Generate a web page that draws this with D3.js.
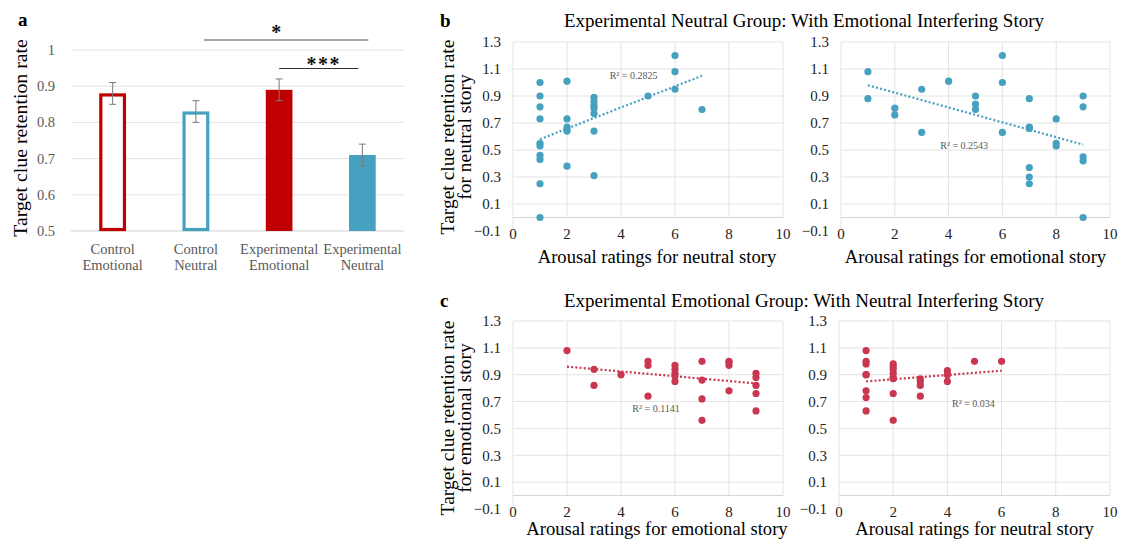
<!DOCTYPE html>
<html>
<head>
<meta charset="utf-8">
<script src="https://cdn.jsdelivr.net/npm/d3@7"></script>
<style>
  html, body { margin: 0; padding: 0; background: #fff; }
  svg { display: block; font-family: "Liberation Serif", "Times New Roman", serif; }
</style>
</head>
<body>
<svg id="chart" width="1121" height="540"></svg>
<script>
// ---------------- DATA ----------------
// Panel a
const barCategories = [["Control", "Emotional"], ["Control", "Neutral"], ["Experimental", "Emotional"], ["Experimental", "Neutral"]];
const barValues = [0.88, 0.83, 0.89, 0.71];
const barErrors = [0.03, 0.03, 0.03, 0.03];
const barFilled = [false, false, true, true];
const barColorKey = ["red", "blue", "red", "blue"];
const barTicks = [0.5, 0.6, 0.7, 0.8, 0.9, 1];
const sigLabels = ["*", "***"];

// Panel b (Experimental Neutral Group)
const bNeutralX = [1,1,1,1,1,1,1,1,1,1, 2,2,2,2,2,2, 3,3,3,3,3,3,3, 5, 6,6,6, 7];
const bNeutralY = [1.0,0.9,0.82,0.73,0.55,0.53,0.46,0.43,0.25,0.0, 1.01,0.73,0.67,0.65,0.64,0.38, 0.89,0.86,0.83,0.81,0.77,0.64,0.31, 0.9, 1.2,1.08,0.95, 0.8];
const bNeutralTrend = [[1, 0.58], [7, 1.05]];
const bNeutralR2 = "R² = 0.2825";

const bEmotionalX = [1,1, 2,2, 3,3, 4, 5,5,5, 6,6,6, 7,7,7,7,7,7, 8,8,8, 9,9,9,9,9];
const bEmotionalY = [1.08,0.88, 0.81,0.76, 0.95,0.63, 1.01, 0.9,0.84,0.8, 1.2,1.0,0.63, 0.88,0.67,0.66,0.37,0.3,0.25, 0.73,0.55,0.53, 0.9,0.82,0.45,0.42,0.0];
const bEmotionalTrend = [[1, 0.98], [9, 0.54]];
const bEmotionalR2 = "R² = 0.2543";

// Panel c (Experimental Emotional Group)
const cEmotionalX = [2, 3,3, 4, 5,5,5, 6,6,6,6,6, 7,7,7,7, 8,8,8,8, 9,9,9,9,9];
const cEmotionalY = [1.08, 0.94,0.82, 0.9, 1.0,0.97,0.74, 0.97,0.94,0.91,0.89,0.85, 1.0,0.86,0.72,0.56, 1.0,0.99,0.97,0.78, 0.91,0.88,0.82,0.76,0.63];
const cEmotionalTrend = [[2, 0.96], [9, 0.835]];
const cEmotionalR2 = "R² = 0.1141";

const cNeutralX = [1,1,1,1,1,1,1,1, 2,2,2,2,2,2,2,2, 3,3,3,3, 4,4,4, 5, 6];
const cNeutralY = [1.08,1.0,0.98,0.9,0.9,0.78,0.73,0.63, 0.98,0.96,0.94,0.91,0.88,0.87,0.76,0.56, 0.87,0.85,0.82,0.74, 0.93,0.9,0.85, 1.0, 1.0];
const cNeutralTrend = [[1, 0.85], [6, 0.93]];
const cNeutralR2 = "R² = 0.034";

const scatterXTicks = [0, 2, 4, 6, 8, 10];
const scatterYTicks = [-0.1, 0.1, 0.3, 0.5, 0.7, 0.9, 1.1, 1.3];
const scatterYGrid = [0.1, 0.3, 0.5, 0.7, 0.9, 1.1, 1.3];

const titleB = "Experimental Neutral Group: With Emotional Interfering Story";
const titleC = "Experimental Emotional Group: With Neutral Interfering Story";

// ---------------- STYLE ----------------
const COLORS = { red: "#C00000", blue: "#46A0C0", dotBlue: "#46A0C0", dotRed: "#C8374F" };
const GRID = "#e3e3e3";
const svg = d3.select("#chart");

// ---------------- PANEL A ----------------
(function panelA() {
  const x = d3.scaleBand().domain(d3.range(barValues.length)).range([71, 404]).paddingInner(0.68).paddingOuter(0.34);
  const y = d3.scaleLinear().domain([0.5, 1]).range([231, 50]);
  const g = svg.append("g");

  g.selectAll("line.grid").data(barTicks).join("line")
    .attr("x1", 71).attr("x2", 404)
    .attr("y1", d => y(d)).attr("y2", d => y(d))
    .attr("stroke", d => d === 0.5 ? "#d0d0d0" : GRID).attr("stroke-width", 1);

  g.selectAll("text.tick").data(barTicks).join("text")
    .attr("x", 55).attr("y", d => y(d)).attr("dy", "0.35em")
    .attr("text-anchor", "end").attr("font-size", 14.5).attr("fill", "#595959")
    .text(d => d3.format("")(d));

  // bars
  g.selectAll("rect.bar").data(barValues).join("rect")
    .attr("x", (d, i) => barFilled[i] ? x(i) : x(i) + 1.5)
    .attr("width", (d, i) => barFilled[i] ? x.bandwidth() : x.bandwidth() - 3)
    .attr("y", (d, i) => barFilled[i] ? y(d) : y(d) + 1.5)
    .attr("height", (d, i) => barFilled[i] ? y(0.5) - y(d) : y(0.5) - y(d) - 3)
    .attr("fill", (d, i) => barFilled[i] ? COLORS[barColorKey[i]] : "#fff")
    .attr("stroke", (d, i) => barFilled[i] ? "none" : COLORS[barColorKey[i]])
    .attr("stroke-width", 3.2);

  // error bars
  const eb = g.selectAll("g.eb").data(barValues).join("g");
  eb.append("line")
    .attr("x1", (d, i) => x(i) + x.bandwidth() / 2).attr("x2", (d, i) => x(i) + x.bandwidth() / 2)
    .attr("y1", (d, i) => y(d - barErrors[i])).attr("y2", (d, i) => y(d + barErrors[i]))
    .attr("stroke", "#7a7a7a").attr("stroke-width", 1);
  [1, -1].forEach(s => {
    eb.append("line")
      .attr("x1", (d, i) => x(i) + x.bandwidth() / 2 - 3.5).attr("x2", (d, i) => x(i) + x.bandwidth() / 2 + 3.5)
      .attr("y1", (d, i) => y(d + s * barErrors[i])).attr("y2", (d, i) => y(d + s * barErrors[i]))
      .attr("stroke", "#7a7a7a").attr("stroke-width", 1);
  });

  // category labels
  barCategories.forEach((lines, i) => {
    const t = g.append("text").attr("text-anchor", "middle").attr("font-size", 14.5).attr("fill", "#595959");
    lines.forEach((ln, k) => {
      t.append("tspan").attr("x", x(i) + x.bandwidth() / 2).attr("y", 254 + k * 15.5).text(ln);
    });
  });

  // y title
  g.append("text").attr("transform", "translate(27,138) rotate(-90)")
    .attr("text-anchor", "middle").attr("font-size", 19.8).attr("fill", "#000")
    .text("Target clue retention rate");

  // significance
  const c = i => x(i) + x.bandwidth() / 2;
  g.append("line").attr("x1", c(1) + 8).attr("x2", c(3) + 6).attr("y1", 40).attr("y2", 40)
    .attr("stroke", "#8a8a8a").attr("stroke-width", 1.6);
  g.append("text").attr("x", (c(1) + c(3)) / 2 - 3).attr("y", 39).attr("text-anchor", "middle")
    .attr("font-size", 20).attr("font-weight", "bold").attr("fill", "#111").text(sigLabels[0]);
  g.append("line").attr("x1", c(2)).attr("x2", c(3) - 4).attr("y1", 68.5).attr("y2", 68.5)
    .attr("stroke", "#333").attr("stroke-width", 1);
  g.append("text").attr("x", (c(2) + c(3)) / 2 + 3).attr("y", 71).attr("text-anchor", "middle")
    .attr("font-size", 20).attr("font-weight", "bold").attr("fill", "#111").attr("letter-spacing", 1.5)
    .text(sigLabels[1]);

  g.append("text").attr("x", 18).attr("y", 26).attr("font-size", 19).attr("font-weight", "bold").text("a");
})();

// ---------------- SCATTERS ----------------
function scatter(cfg) {
  const x = d3.scaleLinear().domain([0, 10]).range([cfg.x0, cfg.x1]);
  const y = d3.scaleLinear().domain([-0.1, 1.3]).range([cfg.yBot, cfg.yTop]);
  const g = svg.append("g");

  g.selectAll("line.hg").data(scatterYGrid).join("line")
    .attr("x1", x(0)).attr("x2", x(10)).attr("y1", d => y(d)).attr("y2", d => y(d))
    .attr("stroke", GRID).attr("stroke-width", 1);
  g.selectAll("line.vg").data(scatterXTicks).join("line")
    .attr("x1", d => x(d)).attr("x2", d => x(d)).attr("y1", y(1.3)).attr("y2", d => d === 0 ? y(-0.1) : y(0))
    .attr("stroke", GRID).attr("stroke-width", 1);
  // horizontal axis at 0
  g.append("line").attr("x1", x(0)).attr("x2", x(10)).attr("y1", y(0)).attr("y2", y(0))
    .attr("stroke", "#d4d4d4").attr("stroke-width", 1);

  g.selectAll("text.yt").data(scatterYTicks).join("text")
    .attr("x", x(0) - 12).attr("y", d => y(d)).attr("dy", "0.35em").attr("text-anchor", "end")
    .attr("font-size", 15).attr("fill", "#222").text(d => d3.format(".1f")(d));
  g.selectAll("text.xt").data(scatterXTicks).join("text")
    .attr("x", d => x(d)).attr("y", y(-0.1) + 8).attr("text-anchor", "middle")
    .attr("font-size", 15).attr("fill", "#222").text(d => d);

  // trend
  g.append("line")
    .attr("x1", x(cfg.trend[0][0])).attr("y1", y(cfg.trend[0][1]))
    .attr("x2", x(cfg.trend[1][0])).attr("y2", y(cfg.trend[1][1]))
    .attr("stroke", cfg.color).attr("stroke-width", 2.2).attr("stroke-dasharray", "2,2.2");

  g.selectAll("circle").data(cfg.xs).join("circle")
    .attr("cx", d => x(d)).attr("cy", (d, i) => y(cfg.ys[i])).attr("r", 3.6)
    .attr("fill", cfg.color);

  g.append("text").attr("x", x(cfg.r2Pos[0])).attr("y", y(cfg.r2Pos[1])).attr("dy", "0.35em")
    .attr("font-size", 10).attr("fill", "#595959").text(cfg.r2);

  g.append("text").attr("x", (cfg.x0 + cfg.x1) / 2 + (cfg.xTitleShift || 0)).attr("y", cfg.xTitleY)
    .attr("text-anchor", "middle").attr("font-size", 18.6).attr("fill", "#000").text(cfg.xTitle);

  if (cfg.yTitle) {
    const t = g.append("text").attr("transform", `translate(${cfg.yTitleX},${cfg.yTitleY}) rotate(-90)`)
      .attr("text-anchor", "middle").attr("font-size", 19.5).attr("fill", "#000");
    cfg.yTitle.forEach((ln, k) => t.append("tspan").attr("x", 0).attr("y", k * 16.5).text(ln));
  }
}

scatter({ x0: 513, x1: 783, yTop: 42, yBot: 231, xs: bNeutralX, ys: bNeutralY, color: COLORS.dotBlue,
  trend: bNeutralTrend, r2: bNeutralR2, r2Pos: [3.58, 1.05], xTitle: "Arousal ratings for neutral story",
  xTitleY: 263, xTitleShift: 9, yTitle: ["Target clue retention rate", "for neutral story"], yTitleX: 454, yTitleY: 137 });
scatter({ x0: 841, x1: 1110, yTop: 42, yBot: 231, xs: bEmotionalX, ys: bEmotionalY, color: COLORS.dotBlue,
  trend: bEmotionalTrend, r2: bEmotionalR2, r2Pos: [3.69, 0.535], xTitle: "Arousal ratings for emotional story",
  xTitleY: 263 });
scatter({ x0: 513, x1: 783, yTop: 321, yBot: 509, xs: cEmotionalX, ys: cEmotionalY, color: COLORS.dotRed,
  trend: cEmotionalTrend, r2: cEmotionalR2, r2Pos: [4.42, 0.652], xTitle: "Arousal ratings for emotional story",
  xTitleY: 535, xTitleShift: 9, yTitle: ["Target clue retention rate", "for emotional story"], yTitleX: 454, yTitleY: 418 });
scatter({ x0: 839, x1: 1110, yTop: 321, yBot: 509, xs: cNeutralX, ys: cNeutralY, color: COLORS.dotRed,
  trend: cNeutralTrend, r2: cNeutralR2, r2Pos: [4.17, 0.682], xTitle: "Arousal ratings for neutral story",
  xTitleY: 535 });

// titles and letters
svg.append("text").attr("x", 804).attr("y", 27).attr("text-anchor", "middle").attr("font-size", 19).text(titleB);
svg.append("text").attr("x", 804).attr("y", 307).attr("text-anchor", "middle").attr("font-size", 19).text(titleC);
svg.append("text").attr("x", 440).attr("y", 27).attr("font-size", 19).attr("font-weight", "bold").text("b");
svg.append("text").attr("x", 440).attr("y", 307).attr("font-size", 19).attr("font-weight", "bold").text("c");
</script>
</body>
</html>
